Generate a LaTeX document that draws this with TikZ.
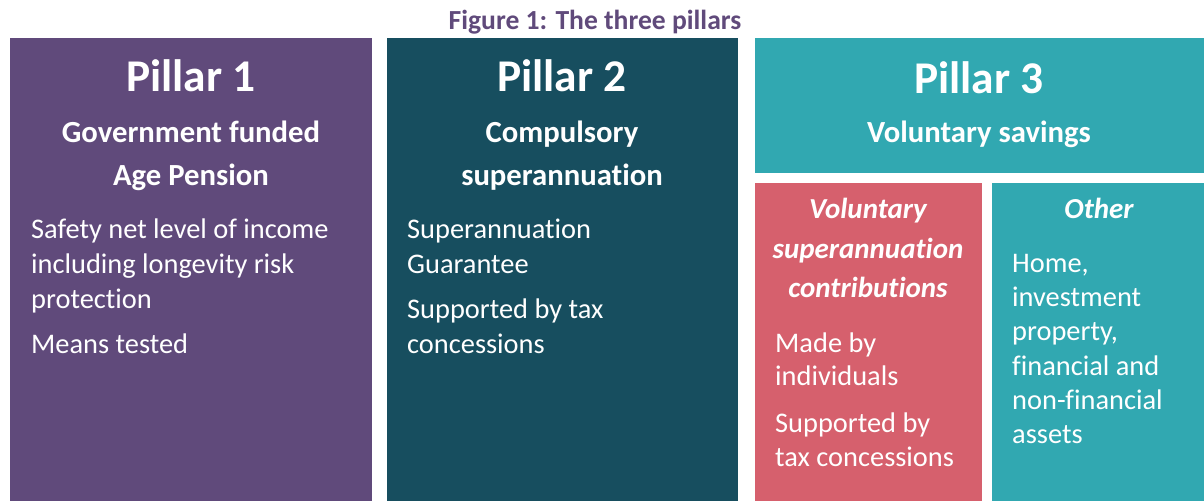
\documentclass[tikz,border=0pt]{standalone}
\usepackage{fontspec}
\setmainfont[Ligatures=NoCommon]{Carlito}
\definecolor{pillarA}{HTML}{604A7B}
\definecolor{pillarB}{HTML}{174E5F}
\definecolor{pillarC}{HTML}{31A8B1}
\definecolor{volsuper}{HTML}{D6606D}
\def\headings{{191/91/pA/Pillar 1}, {562/91/pB/Pillar 2}, {979/93/pC/Pillar 3}}
\def\subheadings{{191/142/gA/Government funded}, {191/185/gB/Age Pension}, {562/142/cA/Compulsory}, {562/185/cB/superannuation}, {979/142/vs/Voluntary savings}}
\def\boxheadings{{868/218/vA/Voluntary}, {868/258/vB/superannuation}, {868/297/vC/contributions}, {1099/218/oA/Other}}
\def\bodylines{{31/238/bA/Safety net level of income}, {31/273/bB/including longevity risk}, {31/308/bC/protection}, {31/353/bD/Means tested},
  {407/238/bE/Superannuation}, {407/273/bF/Guarantee}, {407/318/bG/Supported by tax}, {407/353/bH/concessions},
  {775/352/bI/Made by}, {775/385/bJ/individuals}, {775/432/bK/Supported by}, {775/466/bL/tax concessions},
  {1012/272/bM/{Home,}}, {1012/306/bN/investment}, {1012/340/bO/{property,}}, {1012/375/bP/financial and}, {1012/409/bQ/non-financial}, {1012/443/bR/assets}}
\tikzstyle{caption} = [font=\fontsize{27.6}{27.6}\selectfont\bfseries, text=pillarA, inner sep=0pt, anchor=base]
\tikzstyle{pillar title} = [font=\fontsize{45.4}{45.4}\selectfont\bfseries, text=white, inner sep=0pt, anchor=base]
\tikzstyle{heading} = [font=\fontsize{30.7}{30.7}\selectfont\bfseries, text=white, inner sep=0pt, anchor=base]
\tikzstyle{box heading} = [font=\fontsize{29}{29}\selectfont\bfseries\itshape, text=white, inner sep=0pt, anchor=base]
\tikzstyle{body} = [font=\fontsize{28.4}{28.4}\selectfont, text=white, inner sep=0pt, anchor=base west]

\begin{document}
\begin{tikzpicture}[x=1pt, y=-1pt]
  \useasboundingbox (0,0) rectangle (1204,501);

  % The title
  \node[caption] (title) at (595,29) {Figure 1: The three pillars};

  % The coloured blocks
  \fill[pillarA] (10,38) rectangle (372,501);
  \fill[pillarB] (387,38) rectangle (738,501);
  \fill[pillarC] (755,38) rectangle (1204,173);
  \fill[volsuper] (755,183) rectangle (982,501);
  \fill[pillarC] (992,183) rectangle (1204,501);

  % Pillar names and what they are
  \foreach \x/\y/\name/\txt in \headings
    \node[pillar title] (\name) at (\x,\y) {\txt};
  \foreach \x/\y/\name/\txt in \subheadings
    \node[heading] (\name) at (\x,\y) {\txt};
  \foreach \x/\y/\name/\txt in \boxheadings
    \node[box heading] (\name) at (\x,\y) {\txt};

  % The rest of the text
  \foreach \x/\y/\name/\txt in \bodylines
    \node[body] (\name) at (\x,\y) {\txt};
\end{tikzpicture}
\end{document}
